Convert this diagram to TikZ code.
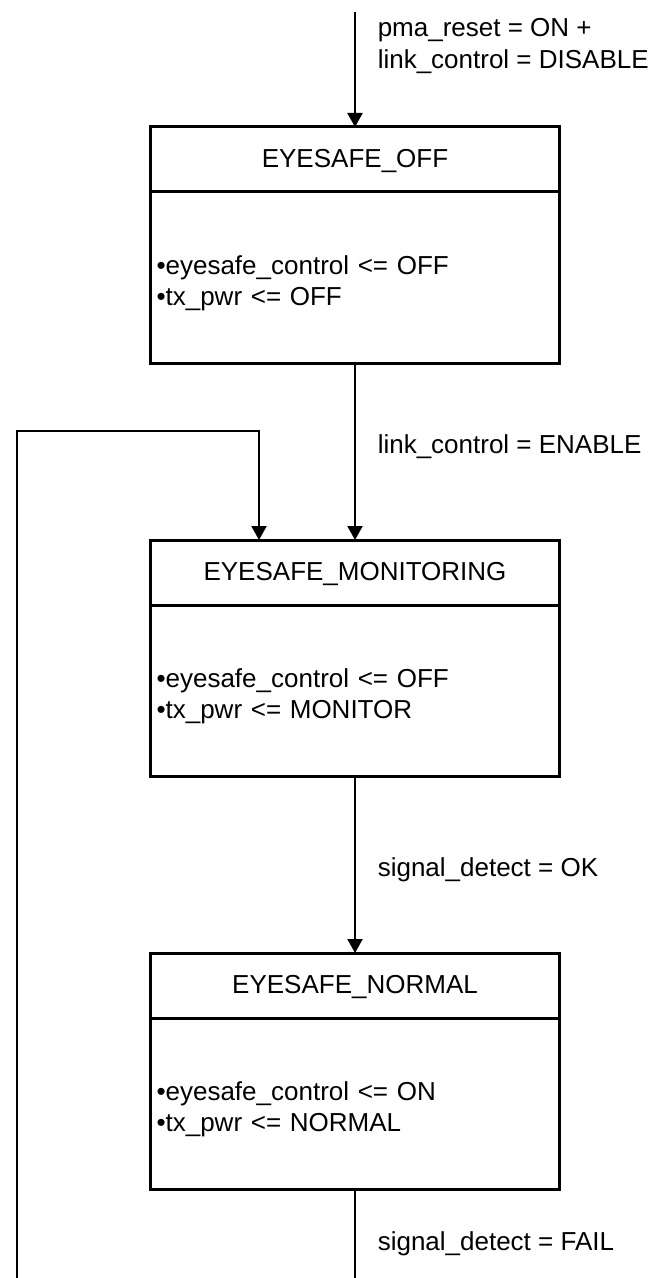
\documentclass[tikz,border=0pt]{standalone}
\usepackage{fontspec}
\setmainfont{Liberation Sans}
\usetikzlibrary{arrows.meta, positioning, calc}
\tikzset{
  ttl/.style  = {rectangle, draw, line width=1.5pt, outer sep=0pt,
                 minimum width=204.5pt, minimum height=32.5pt,
                 text depth=1.5pt},
  act/.style  = {rectangle, draw, line width=1.5pt, outer sep=0pt,
                 text width=198.5pt, inner xsep=3pt,
                 minimum height=85.5pt, align=left,
                 execute at begin node={\rule{0pt}{15.5pt}}},
  arr/.style  = {-{Triangle[width=7.5pt,length=7pt]}, line width=1.1pt},
  wire/.style = {line width=1.1pt},
  lbl/.style  = {right, xshift=7.5pt, align=left},
}

\begin{document}
\begin{tikzpicture}[x=0.5pt, y=-0.5pt, node distance=88.5pt,
                    font=\fontsize{13}{15.5}\selectfont]

  \useasboundingbox (0,0) rectangle (659,1278);

  \node[ttl]                   (offT) at (355,159.5) {EYESAFE\_OFF};
  \node[act, below=0pt of offT] (offB) {\textbullet eyesafe\_control <= OFF\\
                                        \textbullet tx\_pwr <= OFF};
  \node[ttl, below=of offB]    (monT) {EYESAFE\_MONITORING};
  \node[act, below=0pt of monT] (monB) {\textbullet eyesafe\_control <= OFF\\
                                        \textbullet tx\_pwr <= MONITOR};
  \node[ttl, below=of monB]    (norT) {EYESAFE\_NORMAL};
  \node[act, below=0pt of norT] (norB) {\textbullet eyesafe\_control <= ON\\
                                        \textbullet tx\_pwr <= NORMAL};

  % loose ends
  \coordinate (init)    at (355,12);
  \coordinate (fbk)     at (17,1278);
  \coordinate (fbkTop)  at (259,431);
  \coordinate (failEnd) at (norB.south |- fbk);

  \draw[arr] (init) -- node[lbl, pos=0.3, font=\fontsize{13}{16}\selectfont]
    {pma\_reset = ON +\\link\_control = DISABLE} (offT);
  \draw[arr] (offB) -- node[lbl, pos=0.47]{link\_control = ENABLE} (monT);
  \draw[arr] (monB) -- node[lbl, pos=0.53]{signal\_detect = OK} (norT);
  \draw[wire] (norB) -- node[lbl, pos=0.61]{signal\_detect = FAIL} (failEnd);

  % back to monitoring
  \draw[arr] (fbk) |- (fbkTop) -- (fbkTop |- monT.north);

\end{tikzpicture}
\end{document}
